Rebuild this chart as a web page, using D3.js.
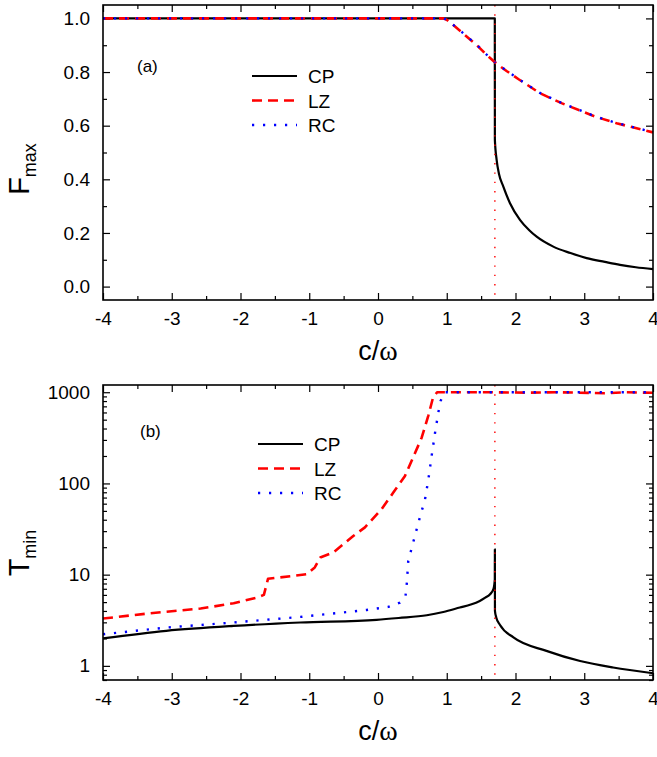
<!DOCTYPE html>
<html>
<head>
<meta charset="utf-8">
<script src="https://cdn.jsdelivr.net/npm/d3@7"></script>
<style>
  body { margin: 0; background: #fff; }
  svg { display: block; font-family: "Liberation Sans", Arial, sans-serif; }
</style>
</head>
<body>
<svg id="chart" width="657" height="757"></svg>
<script>
// tick labels
const xTicks = [-4, -3, -2, -1, 0, 1, 2, 3, 4];
const fTicks = [0.0, 0.2, 0.4, 0.6, 0.8, 1.0];
const tTicks = [1, 10, 100, 1000];
const seriesNames = ['CP', 'LZ', 'RC'];
const criticalX = 1.7;

// panel (a): F_max
const cpFX = [-4, 1.699, 1.7, 1.726, 1.76, 1.823, 1.92, 2.065, 2.2, 2.308, 2.55, 2.8, 3.035, 3.3, 3.52, 3.75, 4.0];
const cpFY = [1, 1, 0.547, 0.472, 0.42, 0.373, 0.311, 0.249, 0.21, 0.186, 0.149, 0.125, 0.106, 0.092, 0.081, 0.072, 0.065];
const lzFX = [-4, 0.95, 1.0, 1.095, 1.265, 1.435, 1.58, 1.716, 1.87, 2.04, 2.356, 2.67, 3.156, 3.47, 4.0];
const lzFY = [1, 1, 0.995, 0.975, 0.938, 0.901, 0.864, 0.833, 0.804, 0.774, 0.721, 0.684, 0.634, 0.609, 0.575];
const rcFX = [-4, 0.95, 1.0, 1.095, 1.265, 1.435, 1.58, 1.716, 1.87, 2.04, 2.356, 2.67, 3.156, 3.47, 4.0];
const rcFY = [1, 1, 0.995, 0.976, 0.939, 0.902, 0.865, 0.834, 0.805, 0.775, 0.722, 0.685, 0.635, 0.61, 0.576];

// panel (b): T_min
const cpTX = [-4, -3.08, -2.1, -1.13, -0.02, 0.3, 0.71, 0.95, 1.19, 1.35, 1.48, 1.56, 1.63, 1.68, 1.699, 1.7, 1.701, 1.72, 1.775, 1.97, 2.45, 2.94, 3.42, 4.0];
const cpTY = [2.0, 2.42, 2.74, 2.99, 3.2, 3.35, 3.59, 3.9, 4.36, 4.7, 5.15, 5.6, 6.1, 7.0, 8.9, 19, 4.0, 3.4, 2.8, 2.05, 1.46, 1.13, 0.96, 0.83];
const lzTX = [-4, -3.31, -2.58, -2.1, -1.76, -1.66, -1.6, -1.04, -0.92, -0.84, -0.65, -0.36, -0.19, 0.05, 0.22, 0.39, 0.51, 0.635, 0.73, 0.8, 0.86, 1.5, 2.2, 2.6, 3.3, 3.6, 4.0];
const lzTY = [3.3, 3.78, 4.25, 4.86, 5.61, 6.0, 9.0, 10.1, 12, 15.4, 17.5, 26.5, 33, 52, 79, 120, 192, 317, 547, 870, 1000, 1000, 990, 1000, 975, 1000, 985];
const rcTX = [-4, -3.08, -2.1, -1.13, -0.165, 0.15, 0.32, 0.40, 0.42, 0.44, 0.515, 0.587, 0.684, 0.733, 0.78, 0.83, 0.877, 0.91, 0.97, 4.0];
const rcTY = [2.22, 2.63, 2.99, 3.44, 4.1, 4.43, 4.95, 5.8, 8.2, 14.1, 23, 37, 67, 111, 200, 360, 596, 800, 1000, 1000];

const styles = {
  CP: {color: '#000', width: 2.2, dash: null, curve: d3.curveMonotoneX},
  LZ: {color: '#ff0000', width: 2.6, dash: '10,6', curve: d3.curveLinear},
  RC: {color: '#0000ff', width: 2.4, dash: '2.2,8.8', curve: d3.curveLinear}
};

const svg = d3.select('#chart');
const left = 103, right = 653;
const x = d3.scaleLinear().domain([-4, 4]).range([left, right]);

const zip = (xs, ys) => xs.map((v, i) => ({x: v, y: ys[i]}));

function drawPanel(cfg) {
  const {top, bottom, y, yTicks, yMinor, fmt, series, tag, tagPos, legendPos, yLabel, yLabelPos} = cfg;
  const g = svg.append('g');

  // minor + major ticks, all inward
  const addAxis = (axis, tx, ty) => {
    const a = g.append('g').attr('transform', `translate(${tx},${ty})`).call(axis);
    a.select('.domain').remove();
    a.selectAll('line').attr('stroke', '#000').attr('stroke-width', 1.2);
    a.selectAll('text').attr('fill', '#000').attr('font-size', 19)
      .attr('font-family', '"Liberation Sans", Arial, sans-serif');
    return a;
  };
  const xMinor = d3.range(-3.5, 4, 1);
  addAxis(d3.axisBottom(x).tickValues(xTicks).tickSize(-7).tickSizeOuter(0).tickPadding(12).tickFormat(d => String(d)), 0, bottom);
  addAxis(d3.axisBottom(x).tickValues(xMinor).tickSize(-4).tickSizeOuter(0).tickFormat(''), 0, bottom);
  addAxis(d3.axisTop(x).tickValues(xTicks).tickSize(-7).tickSizeOuter(0).tickFormat(''), 0, top);
  addAxis(d3.axisTop(x).tickValues(xMinor).tickSize(-4).tickSizeOuter(0).tickFormat(''), 0, top);
  addAxis(d3.axisLeft(y).tickValues(yTicks).tickSize(-7).tickSizeOuter(0).tickPadding(13).tickFormat(fmt), left, 0);
  addAxis(d3.axisLeft(y).tickValues(yMinor).tickSize(-4).tickSizeOuter(0).tickFormat(''), left, 0);
  addAxis(d3.axisRight(y).tickValues(yTicks).tickSize(-7).tickSizeOuter(0).tickFormat(''), right, 0);
  addAxis(d3.axisRight(y).tickValues(yMinor).tickSize(-4).tickSizeOuter(0).tickFormat(''), right, 0);

  // curves
  series.forEach(s => {
    const st = styles[s.name];
    const line = d3.line().x(d => x(d.x)).y(d => y(d.y)).curve(st.curve);
    g.append('path')
      .datum(zip(s.xs, s.ys))
      .attr('fill', 'none')
      .attr('stroke', st.color)
      .attr('stroke-width', st.width)
      .attr('stroke-dasharray', st.dash)
      .attr('stroke-linejoin', 'round')
      .attr('d', line);
  });

  // critical value marker
  g.append('line')
    .attr('x1', x(criticalX)).attr('x2', x(criticalX))
    .attr('y1', top).attr('y2', bottom)
    .attr('stroke', '#ff0000').attr('stroke-width', 1.4)
    .attr('stroke-dasharray', '1.4,7.9');

  // frame
  g.append('rect')
    .attr('x', left).attr('y', top)
    .attr('width', right - left).attr('height', bottom - top)
    .attr('fill', 'none').attr('stroke', '#000').attr('stroke-width', 1.6);

  // panel tag
  g.append('text').attr('x', tagPos[0]).attr('y', tagPos[1])
    .attr('font-size', 17).text(tag);

  // legend
  seriesNames.forEach((n, i) => {
    const st = styles[n];
    const ly = legendPos[1] + i * 24.5;
    g.append('line')
      .attr('x1', legendPos[0]).attr('x2', legendPos[0] + 45)
      .attr('y1', ly).attr('y2', ly)
      .attr('stroke', st.color).attr('stroke-width', st.width)
      .attr('stroke-dasharray', st.dash);
    g.append('text').attr('x', legendPos[0] + 56).attr('y', ly + 7)
      .attr('font-size', 19).text(n);
  });

  // y title
  const yt = g.append('text')
    .attr('transform', `translate(${yLabelPos[0]},${yLabelPos[1]}) rotate(-90)`)
    .attr('text-anchor', 'middle')
    .attr('font-size', 29);
  yt.append('tspan').text(yLabel[0]);
  yt.append('tspan').attr('font-size', 18).attr('dy', 7).text(yLabel[1]);

  // x title
  const xt = g.append('text')
    .attr('x', (left + right) / 2).attr('y', bottom + 60)
    .attr('text-anchor', 'middle')
    .attr('font-size', 27);
  xt.append('tspan').text('c/');
  xt.append('tspan').attr('font-family', '"Liberation Serif", "DejaVu Serif", serif').attr('font-size', 28).text('ω');
}

// panel (a)
const yF = d3.scaleLinear().domain([-0.05, 1.05]).range([300, 5]);
drawPanel({
  top: 5, bottom: 300, y: yF,
  yTicks: fTicks,
  yMinor: d3.range(0.1, 1.0, 0.2),
  fmt: d3.format('.1f'),
  series: [
    {name: 'CP', xs: cpFX, ys: cpFY},
    {name: 'LZ', xs: lzFX, ys: lzFY},
    {name: 'RC', xs: rcFX, ys: rcFY}
  ],
  tag: '(a)', tagPos: [137, 72],
  legendPos: [252, 76],
  yLabel: ['F', 'max'], yLabelPos: [29, 169]
});

// panel (b)
const yT = d3.scaleLog().domain([0.7, 1200]).range([680, 385]);
const tMinor = [];
[0.1, 1, 10, 100].forEach(d => d3.range(2, 10).forEach(k => {
  const v = k * d;
  if (v >= 0.7 && v <= 1200 && v !== 1 && v !== 10 && v !== 100 && v !== 1000) tMinor.push(v);
}));
drawPanel({
  top: 385, bottom: 680, y: yT,
  yTicks: tTicks,
  yMinor: tMinor,
  fmt: d3.format('d'),
  series: [
    {name: 'CP', xs: cpTX, ys: cpTY},
    {name: 'LZ', xs: lzTX, ys: lzTY},
    {name: 'RC', xs: rcTX, ys: rcTY}
  ],
  tag: '(b)', tagPos: [140, 437],
  legendPos: [258, 444],
  yLabel: ['T', 'min'], yLabelPos: [29, 553]
});
</script>
</body>
</html>
